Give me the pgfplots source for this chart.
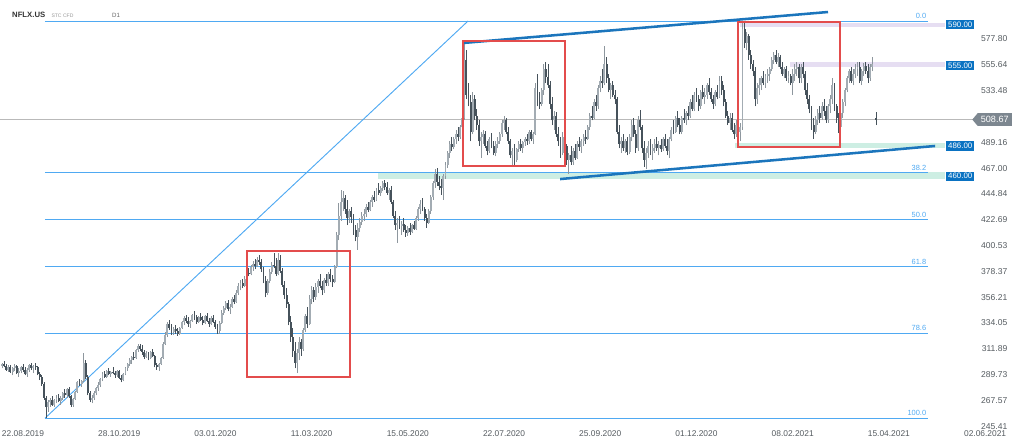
\documentclass[border=0pt]{standalone}
\usepackage{pgfplots}
\usepackage{pgfplotstable}
\pgfplotsset{compat=1.18}
\usepackage{fontspec}
\setmainfont{Liberation Sans}
\usetikzlibrary{shapes.symbols}

\definecolor{upcol}{HTML}{A3ACB3}
\definecolor{upwick}{HTML}{8E979E}
\definecolor{dncol}{HTML}{46525B}
\definecolor{fibblue}{HTML}{4FA9F2}
\definecolor{chanblue}{HTML}{1B75BC}
\definecolor{boxblue}{HTML}{0A72C2}
\definecolor{rectred}{HTML}{E34C4C}
\definecolor{lav}{HTML}{E6DEF2}
\definecolor{teal}{HTML}{CDEEE3}
\definecolor{pricegray}{HTML}{7D8790}
\definecolor{txtgray}{HTML}{555B60}

\tikzset{
  fiblab/.style={anchor=south east, inner sep=1pt, yshift=0.3pt, font=\fontsize{5.6}{6}\selectfont, text=fibblue},
  tag/.style={fill=boxblue, text=white, anchor=west, inner xsep=1.6pt, inner ysep=1.4pt, font=\fontsize{5.9}{6}\selectfont},
}
% a candle part is a vertical quiver segment; rows of the other direction get y=-1000 and are dropped
\pgfplotsset{
  candle/.style n args={2}{draw=#1, line width=#2, mark=none, forget plot, restrict y to domain=0:1000},
}

% daily candles: bar index, open, high, low, close
\pgfplotstableread{
i o h l c
-10 297 300 295 299
-9 299 301 296 297
-8 297 299 293 294
-7 294 298 292 296
-6 296 298 291 292
-5 292 296 289 295
-4 295 299 293 297
-3 297 298 290 291
-2 291 295 288 293
-1 293 297 291 296
0 296 299 292 294
1 294 296 289 290
2 290 295 288 294
3 294 299 292 298
4 298 300 294 295
5 295 298 291 297
6 297 300 294 296
7 296 297 289 290
8 290 292 285 288
9 288 289 280 282
10 282 283 268 270
11 270 271 252.5 262
12 262 268 258 266
13 266 270 262 268
14 268 271 263 264
15 264 269 262 268
16 268 272 265 270
17 270 273 266 267
18 267 271 264 270
19 270 275 268 274
20 274 277 270 272
21 272 278 270 277
22 277 279 270 271
23 271 272 262 264
24 264 270 262 269
25 269 276 268 275
26 275 284 274 283
27 283 286 280 282
28 282 285 279 284
29 284 308 283 300
30 300 302 286 288
31 288 289 272 274
32 274 276 266 268
33 268 272 265 270
34 270 276 268 274
35 274 279 272 278
36 278 283 276 281
37 281 287 279 286
38 286 292 284 290
39 290 293 287 288
40 288 294 287 293
41 293 295 289 290
42 290 293 288 292
43 292 296 290 291
44 291 293 287 289
45 289 294 288 293
46 293 294 286 287
47 287 289 283 285
48 285 291 284 290
49 290 296 289 295
50 295 300 293 299
51 299 304 297 302
52 302 306 299 305
53 305 309 302 304
54 304 312 303 311
55 311 316 309 314
56 314 316 310 312
57 312 315 307 309
58 309 311 303 305
59 305 310 304 308
60 308 309 302 304
61 304 310 303 309
62 309 312 305 306
63 306 307 296 298
64 298 300 294 296
65 296 300 293 299
66 299 305 298 304
67 304 318 303 316
68 316 326 315 324
69 324 335 322 333
70 333 337 328 330
71 330 333 324 326
72 326 331 324 329
73 329 332 325 327
74 327 330 323 325
75 325 331 324 330
76 330 336 329 335
77 335 340 332 338
78 338 341 334 336
79 336 339 331 333
80 333 337 330 336
81 336 342 335 341
82 341 344 337 339
83 339 341 333 335
84 335 340 334 339
85 339 343 336 337
86 337 340 332 334
87 334 341 333 340
88 340 343 335 336
89 336 338 331 333
90 333 340 332 338
91 338 341 334 335
92 335 337 329 331
93 331 333 325 327
94 327 336 325 334
95 334 345 333 343
96 343 349 341 347
97 347 353 345 351
98 351 354 344 346
99 346 350 342 348
100 348 356 347 355
101 355 358 350 352
102 352 362 351 360
103 360 368 358 366
104 366 371 362 368
105 368 372 364 366
106 366 374 365 372
107 372 379 370 377
108 377 381 374 376
109 376 384 375 382
110 382 387 379 385
111 385 389 380 383
112 383 391 382 388
113 388 392 384 386
114 386 389 378 380
115 380 382 368 370
116 370 374 356 360
117 360 372 358 370
118 370 380 368 378
119 378 386 376 384
120 384 394 381 383
121 383 390 374 376
122 376 394 375 388
123 388 392 377 379
124 379 381 365 367
125 367 370 355 358
126 358 364 347 350
127 350 352 332 335
128 335 340 318 322
129 322 330 305 310
130 310 318 295 300
131 300 312 291 308
132 308 322 302 318
133 318 320 306 312
134 312 330 310 328
135 328 342 326 340
136 340 348 330 333
137 333 358 332 355
138 355 366 350 362
139 362 365 352 356
140 356 368 354 365
141 365 372 360 370
142 370 376 364 366
143 366 370 358 362
144 362 373 360 371
145 371 376 366 368
146 368 378 366 376
147 376 380 369 372
148 372 375 365 369
149 369 384 368 382
150 382 412 381 410
151 410 437 405 426
152 426 448 422 438
153 438 447 430 441
154 441 444 428 432
155 432 440 418 424
156 424 432 420 430
157 430 434 420 425
158 425 428 410 414
159 414 418 404 408
160 408 420 397 416
161 416 424 412 421
162 421 429 418 426
163 426 432 422 428
164 428 436 425 434
165 434 438 429 431
166 431 440 430 438
167 438 444 434 442
168 442 447 438 440
169 440 450 439 448
170 448 454 444 446
171 446 452 443 450
172 450 456 447 454
173 454 457 448 451
174 451 455 444 446
175 446 450 440 448
176 448 452 436 438
177 438 440 424 426
178 426 430 414 418
179 418 424 403 420
180 420 426 415 417
181 417 422 410 419
182 419 424 412 414
183 414 418 408 411
184 411 417 409 416
185 416 420 410 412
186 412 419 411 418
187 418 422 414 415
188 415 426 414 424
189 424 434 422 432
190 432 440 428 436
191 436 441 430 432
192 432 434 422 424
193 424 428 416 420
194 420 432 419 430
195 430 444 428 442
196 442 456 440 454
197 454 466 450 462
198 462 467 452 455
199 455 460 448 452
200 452 458 444 450
201 450 462 440 460
202 460 472 458 470
203 470 482 467 480
204 480 490 476 488
205 488 494 482 485
206 485 494 483 492
207 492 500 488 496
208 496 502 490 494
209 494 504 492 502
210 502 512 498 510
211 510 574 508 560
212 560 568 526 530
213 530 540 520 524
214 524 530 490 498
215 498 532 496 526
216 526 530 508 512
217 512 518 500 504
218 504 508 486 490
219 490 498 476 494
220 494 500 488 496
221 496 499 484 486
222 486 490 478 482
223 482 494 480 492
224 492 497 484 486
225 486 490 478 480
226 480 490 477 488
227 488 494 484 490
228 490 498 488 496
229 496 508 494 506
230 506 512 500 508
231 508 510 496 498
232 498 502 488 490
233 490 492 476 478
234 478 484 468 482
235 482 488 470 474
236 474 484 472 483
237 483 490 481 488
238 488 492 482 484
239 484 490 480 489
240 489 494 486 492
241 492 496 487 490
242 490 500 488 498
243 498 500 490 492
244 492 498 488 496
245 496 540 495 536
246 536 548 520 524
247 524 532 518 522
248 522 536 520 534
249 534 556 530 552
250 552 558 540 545
251 545 556 536 538
252 538 542 518 522
253 522 528 504 508
254 508 516 500 512
255 512 515 494 496
256 496 502 486 490
257 490 494 476 480
258 480 498 478 494
259 494 500 482 486
260 486 488 470 474
261 474 480 462 478
262 478 486 470 472
263 472 484 470 482
264 482 488 474 476
265 476 490 475 488
266 488 494 482 485
267 485 492 480 490
268 490 496 486 494
269 494 500 488 492
270 492 504 491 502
271 502 514 500 512
272 512 520 508 510
273 510 526 509 524
274 524 530 516 520
275 520 538 518 536
276 536 546 532 542
277 542 552 536 540
278 540 572 538 556
279 556 562 540 544
280 544 548 532 534
281 534 540 526 538
282 538 542 528 530
283 530 534 522 526
284 526 528 496 498
285 498 504 484 488
286 488 494 480 490
287 490 496 482 484
288 484 492 480 490
289 490 494 478 481
290 481 496 479 494
291 494 508 490 504
292 504 510 494 496
293 496 500 480 484
294 484 512 482 508
295 508 517 500 502
296 502 504 480 484
297 484 490 468 474
298 474 484 466 480
299 480 490 476 486
300 486 492 478 482
301 482 488 474 484
302 484 492 480 488
303 488 494 482 484
304 484 490 478 487
305 487 492 481 483
306 483 494 482 492
307 492 496 484 486
308 486 492 478 482
309 482 494 476 492
310 492 502 490 500
311 500 508 496 498
312 498 512 497 510
313 510 516 502 504
314 504 510 496 498
315 498 512 496 510
316 510 518 506 508
317 508 516 504 514
318 514 520 508 512
319 512 526 510 524
320 524 530 516 518
321 518 532 516 530
322 530 536 524 526
323 526 530 516 520
324 520 534 518 532
325 532 538 526 528
326 528 536 522 530
327 530 540 526 538
328 538 544 530 532
329 532 536 524 526
330 526 530 518 522
331 522 534 520 532
332 532 538 526 528
333 528 546 527 542
334 542 546 530 534
335 534 538 520 524
336 524 526 510 512
337 512 516 504 506
338 506 514 500 510
339 510 514 498 500
340 500 506 492 496
341 496 508 494 504
342 504 510 496 498
343 498 506 490 502
344 502 593.3 500 586
345 586 592 570 574
346 574 584 568 580
347 580 582 560 564
348 564 568 552 556
349 556 560 546 550
350 550 554 520 526
351 526 540 522 536
352 536 544 530 538
353 538 546 534 544
354 544 550 538 540
355 540 548 536 546
356 546 552 540 548
357 548 554 542 552
358 552 562 550 560
359 560 567 556 564
360 564 568 556 558
361 558 566 554 562
362 562 564 552 554
363 554 558 546 548
364 548 554 544 552
365 552 555 542 544
366 544 550 540 546
367 546 548 538 540
368 540 552 530 548
369 548 556 542 552
370 552 558 546 554
371 554 556 540 544
372 544 556 540 554
373 554 558 544 548
374 548 550 530 534
375 534 540 522 526
376 526 530 514 518
377 518 520 500 504
378 504 510 492 498
379 498 512 496 508
380 508 518 504 514
381 514 520 506 510
382 510 524 508 520
383 520 526 512 516
384 516 520 506 508
385 508 522 506 520
386 520 530 514 526
387 526 544 522 538
388 538 540 516 520
389 520 522 506 510
390 510 514 497 502
391 502 516 500 514
392 514 526 510 524
393 524 536 520 534
394 534 546 532 544
395 544 552 540 550
396 550 554 540 542
397 542 552 538 548
398 548 556 544 552
399 552 558 546 554
400 554 558 540 542
401 542 552 538 550
402 550 557 546 555
403 555 558 548 550
404 550 556 540 544
405 544 556 542 554
406 554 562 550 556
408 510 515 504 508.67
}\candles

\begin{document}
\begin{tikzpicture}
\useasboundingbox (0,0) rectangle (768pt,-333pt);
\begin{axis}[
  at={(0,0)}, anchor=north west,
  scale only axis, width=768pt, height=321pt,
  xmin=-11.0, xmax=478.6, ymin=243.9, ymax=611.3,
  axis line style={draw=none},
  major tick length=0pt,
  xtick={0,46,92,138,184,230,276,322,368,414,460},
  xticklabels={22.08.2019,28.10.2019,03.01.2020,11.03.2020,15.05.2020,22.07.2020,25.09.2020,01.12.2020,08.02.2021,15.04.2021,02.06.2021},
  xticklabel style={font=\fontsize{6.3}{7}\selectfont, text=txtgray, anchor=north, yshift=1.5pt},
  ytick={245.41,267.57,289.73,311.89,334.05,356.21,378.37,400.53,422.69,444.84,467.00,489.16,533.48,555.64,577.80},
  yticklabels={245.41,267.57,289.73,311.89,334.05,356.21,378.37,400.53,422.69,444.84,467.00,489.16,533.48,555.64,577.80},
  yticklabel pos=right,
  yticklabel style={font=\fontsize{6.4}{7}\selectfont, text=txtgray, anchor=east, xshift=-9pt},
  /pgf/number format/assume math mode=true,
]
% zones
\fill[lav] (axis cs:342.8,588.3) rectangle (axis cs:440.9,591.7);
\fill[lav] (axis cs:366.8,553.8) rectangle (axis cs:440.9,558.0);
\fill[teal] (axis cs:340.5,484.0) rectangle (axis cs:440.9,488.5);
\fill[teal] (axis cs:169.8,457.6) rectangle (axis cs:440.9,463.6);
% current price line
\draw[gray!55, line width=0.7pt] (axis cs:-11,508.67) -- (axis cs:470,508.67);
% fibonacci
\draw[fibblue, line width=0.7pt] (axis cs:10.5,252.3) -- (axis cs:212.8,593.3);
\draw[fibblue, line width=0.7pt] (axis cs:10.5,593.29) -- (axis cs:432.7,593.29) node[fiblab] {0.0};
\draw[fibblue, line width=0.7pt] (axis cs:10.5,463.0) -- (axis cs:432.7,463.0) node[fiblab] {38.2};
\draw[fibblue, line width=0.7pt] (axis cs:10.5,422.79) -- (axis cs:432.7,422.79) node[fiblab] {50.0};
\draw[fibblue, line width=0.7pt] (axis cs:10.5,382.54) -- (axis cs:432.7,382.54) node[fiblab] {61.8};
\draw[fibblue, line width=0.7pt] (axis cs:10.5,325.26) -- (axis cs:432.7,325.26) node[fiblab] {78.6};
\draw[fibblue, line width=0.7pt] (axis cs:10.5,252.28) -- (axis cs:432.7,252.28) node[fiblab] {100.0};
% candles: up (close >= open)
\addplot[candle={upwick}{0.6pt}, quiver={u=0, v=\thisrow{h}-\thisrow{l}}]
  table[x=i, y expr={\thisrow{c}>=\thisrow{o} ? \thisrow{l} : -1000}] {\candles};
\addplot[candle={upcol}{1.45pt}, quiver={u=0, v={max(\thisrow{c}-\thisrow{o},0.6)}}]
  table[x=i, y expr={\thisrow{c}>=\thisrow{o} ? \thisrow{o} : -1000}] {\candles};
% candles: down
\addplot[candle={dncol}{0.6pt}, quiver={u=0, v=\thisrow{h}-\thisrow{l}}]
  table[x=i, y expr={\thisrow{c}<\thisrow{o} ? \thisrow{l} : -1000}] {\candles};
\addplot[candle={dncol}{1.45pt}, quiver={u=0, v={max(\thisrow{o}-\thisrow{c},0.6)}}]
  table[x=i, y expr={\thisrow{c}<\thisrow{o} ? \thisrow{c} : -1000}] {\candles};
% channel
\draw[chanblue, line width=1.9pt] (axis cs:210.4,574.4) -- (axis cs:384.9,601.0);
\draw[chanblue, line width=1.9pt] (axis cs:256.8,457.6) -- (axis cs:436.1,486.0);
% boxes
\draw[rectred, line width=1.3pt] (axis cs:107.1,287.7) rectangle (axis cs:156.4,395.8);
\draw[rectred, line width=1.3pt] (axis cs:210.4,468.8) rectangle (axis cs:259.2,576.1);
\draw[rectred, line width=1.3pt] (axis cs:341.9,485.1) rectangle (axis cs:390.7,592.4);
% level tags
\node[tag] at (axis cs:441.2,590) {590.00};
\node[tag] at (axis cs:441.2,555) {555.00};
\node[tag] at (axis cs:441.2,486) {486.00};
\node[tag] at (axis cs:441.2,460) {460.00};
\node[signal, signal to=west, signal pointer angle=100, fill=pricegray, text=white, anchor=east,
  inner xsep=2.4pt, inner ysep=2.4pt, font=\fontsize{6.8}{7}\selectfont] at (axis cs:472.9,508.67) {508.67};
% header
\node[anchor=west, inner sep=0pt, font=\bfseries\fontsize{5.8}{6}\selectfont, text=black!80] at (axis cs:-5.3,598.6) {NFLX.US};
\node[anchor=west, inner sep=0pt, font=\fontsize{3.8}{4}\selectfont, text=black!40] at (axis cs:13.5,598.2) {STC CFD};
\node[anchor=west, inner sep=0pt, font=\fontsize{4.6}{5}\selectfont, text=black!60] at (axis cs:42.5,598.2) {D1};
\end{axis}
\end{tikzpicture}
\end{document}
